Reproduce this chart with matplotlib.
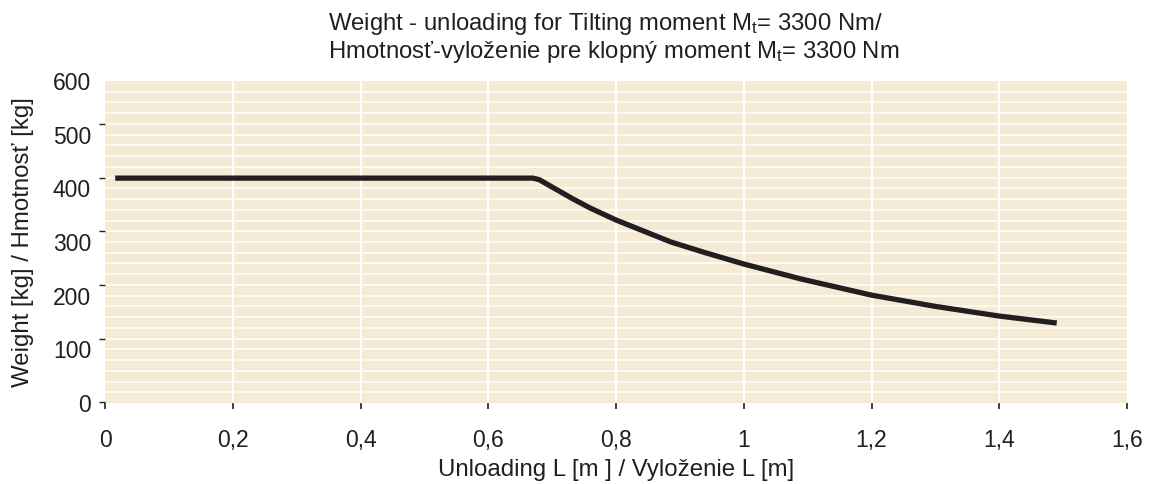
import matplotlib
matplotlib.use('Agg')
import numpy as np
import matplotlib.pyplot as plt

plt.rcParams['font.family'] = ['Liberation Sans', 'DejaVu Sans']
plt.rcParams['mathtext.fontset'] = 'custom'
plt.rcParams['mathtext.rm'] = 'Liberation Sans'
plt.rcParams['mathtext.it'] = 'Liberation Sans:italic'

# curve
unloading = [0.016, 0.67, 0.68, 0.73, 0.76, 0.8, 0.886, 0.94, 1.0, 1.09, 1.2, 1.3, 1.4, 1.49]
weight = [419, 419, 416, 382, 363, 341, 300, 280, 259, 231, 201, 180, 162, 149]

x_ticks = [0, 0.2, 0.4, 0.6, 0.8, 1.0, 1.2, 1.4, 1.6]
x_labels = ['0', '0,2', '0,4', '0,6', '0,8', '1', '1,2', '1,4', '1,6']
y_ticks = [0, 100, 200, 300, 400, 500, 600]
y_marks = [2, 120, 220, 320, 420, 520]  # tick dashes sit a bit above the labels

title = ('Weight - unloading for Tilting moment M$_\\mathrm{t}$= 3300 Nm/\n'
         'Hmotnosť-vyloženie pre klopný moment M$_\\mathrm{t}$= 3300 Nm')

fig = plt.figure(figsize=(11.53, 4.84), dpi=100)
ax = fig.add_axes([105 / 1153, 1 - 403 / 484, 1022 / 1153, 322 / 484])
ax.set_facecolor('#F5EAD4')

for v in np.arange(20, 600, 20):
    ax.axhline(v, color='white', lw=1.1, zorder=1)
for v in x_ticks[1:-1]:
    ax.axvline(v, color='white', lw=1.6, zorder=1)

ax.plot(unloading, weight, color='#231F20', lw=3.8, solid_joinstyle='round',
        solid_capstyle='butt', zorder=3)

ax.set_xlim(0, 1.6)
ax.set_ylim(0, 600)
for s in ax.spines.values():
    s.set_visible(False)

ax.set_xticks(x_ticks)
ax.set_xticklabels(x_labels)
ax.tick_params(axis='x', length=4, width=1.2, color='#231F20', pad=15,
               labelsize=16.5, labelcolor='#231F20')

ax.set_yticks(y_ticks)
ax.set_yticklabels([str(v) for v in y_ticks])
ax.set_yticks(y_marks, minor=True)
ax.tick_params(axis='y', which='major', length=0, pad=10, labelsize=16.5,
               labelcolor='#231F20')
ax.tick_params(axis='y', which='minor', length=4.5, width=1.0, color='#231F20', pad=0)

ax.set_xlabel('Unloading L [m ] / Vyloženie L [m]', fontsize=17.3, color='#231F20')
ax.xaxis.set_label_coords(0.5, -56 / 322)
ax.set_ylabel('Weight [kg] / Hmotnosť [kg]', fontsize=17.3, color='#231F20')
ax.yaxis.set_label_coords(-71 / 1022, 0.5)

fig.text(328 / 1153, 1 - 11 / 484, title, ha='left', va='top', fontsize=17.2,
         color='#231F20', linespacing=1.1)

fig.savefig('out.png', dpi=100)
